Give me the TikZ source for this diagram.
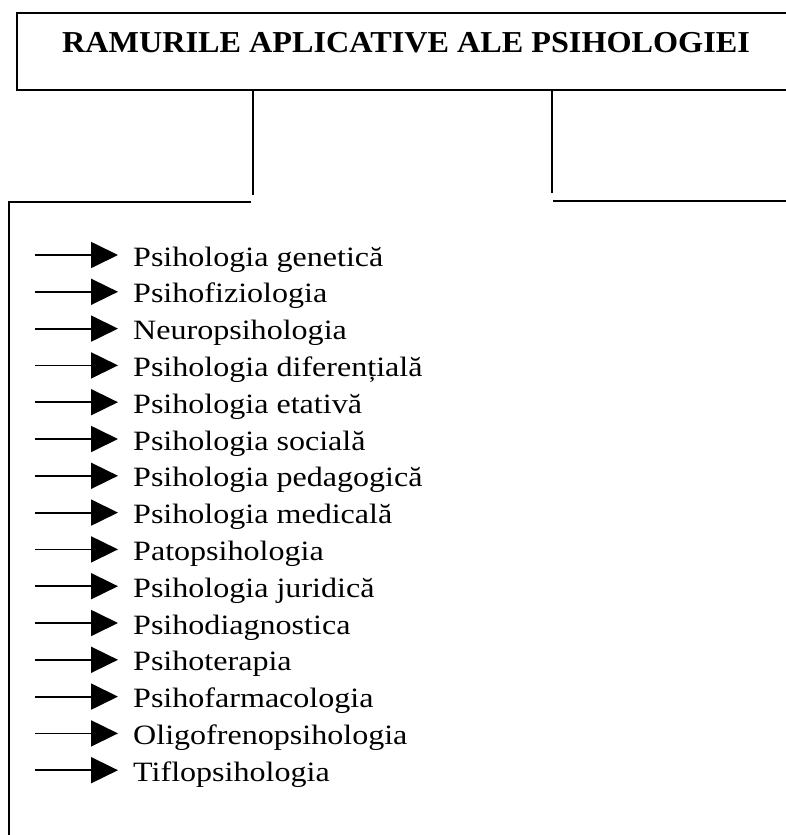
\documentclass[tikz,border=0pt]{standalone}
\usepackage{fontspec}
\setmainfont{Liberation Serif}[FakeStretch=1.06]
\newfontfamily\itemfont{Liberation Serif}[FakeStretch=1.145]
\usetikzlibrary{arrows.meta}
\begin{document}
\begin{tikzpicture}[x=1pt,y=-1pt,
  frame/.style={line width=1.6pt},
  conn/.style={line width=2pt},
  item/.style={anchor=base west,inner sep=0pt,font=\itemfont\fontsize{28}{32}\selectfont},
  arr/.style={line width=1.8pt,-{Triangle[length=27pt,width=26pt]}},
  titlestyle/.style={anchor=base,inner sep=0pt,font=\fontsize{30.4}{35}\selectfont\bfseries}]
\useasboundingbox (0,0) rectangle (786,835);
% header box (right side runs off the page)
\node[draw,frame,minimum width=784pt,minimum height=77pt,inner sep=0pt,anchor=north west] (box) at (16,12) {};
\node[titlestyle] (title) at (406,52) {RAMURILE APLICATIVE ALE PSIHOLOGIEI};
% connectors
\coordinate (c1) at (252.7,195);
\coordinate (c2) at (551.7,193);
\draw[conn] (box.south -| c1) -- (c1);
\draw[conn] (box.south -| c2) -- (c2);
\coordinate (h1a) at (250.7,202.3);
\coordinate (h1b) at (9,202.3);
\coordinate (h1c) at (9,840);
\draw[conn] (h1a) -- (h1b) -- (h1c);
\coordinate (h2a) at (553,200.7);
\coordinate (h2b) at (790,200.7);
\draw[conn] (h2a) -- (h2b);
% items
\foreach \t [count=\i from 0] in {Psihologia genetică,Psihofiziologia,Neuropsihologia,Psihologia diferențială,Psihologia etativă,Psihologia socială,Psihologia pedagogică,Psihologia medicală,Patopsihologia,Psihologia juridică,Psihodiagnostica,Psihoterapia,Psihofarmacologia,Oligofrenopsihologia,Tiflopsihologia}{
  \pgfmathsetmacro{\yy}{255+36.8*\i}
  \coordinate (s\i) at (35,\yy);
  \node[item] (it\i) at (133,\yy+11) {\t};
  \coordinate (e\i) at (118,\yy);
  \draw[arr] (s\i) -- (e\i);
}
\end{tikzpicture}
\end{document}
